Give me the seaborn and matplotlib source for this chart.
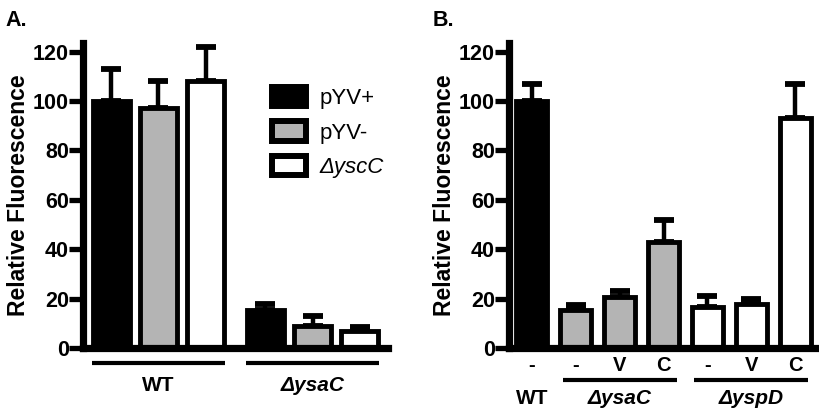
import matplotlib
matplotlib.use("Agg")
import matplotlib.pyplot as plt
import matplotlib.transforms as mtransforms
from matplotlib.patches import Patch
import seaborn as sns
import pandas as pd
import numpy as np

# ---------------- data ----------------
A_groups = ["WT", "ΔysaC"]
A_strains = ["pYV+", "pYV-", "ΔyscC"]
A_mean_WT = [100, 97, 108]
A_mean_ysaC = [15.5, 9, 7]
A_err_WT = [13, 11, 14]
A_err_ysaC = [2.5, 4, 1.5]

B_ticklabels = ["-", "-", "V", "C", "-", "V", "C"]
B_groups = ["WT", "ΔysaC", "ΔysaC", "ΔysaC", "ΔyspD", "ΔyspD", "ΔyspD"]
B_mean = [100, 15.5, 20.5, 43, 16.5, 18, 93]
B_err = [7, 2, 2.5, 9, 4.5, 2, 14]

yticks = [0, 20, 40, 60, 80, 100, 120]
colors = ["#000000", "#b4b4b4", "#ffffff"]

# ---------------- style ----------------
sns.set_theme(style="ticks", rc={"text.color": "black", "axes.labelcolor": "black",
                                 "xtick.color": "black", "ytick.color": "black",
                                 "axes.edgecolor": "black"})
plt.rcParams["font.family"] = ["Liberation Sans", "DejaVu Sans"]

EDGE_LW = 3.5
SPINE_LW = 5.2
ERR_LW = 3.2
TICK_FS = 15.5
LABEL_FS = 16.5

fig = plt.figure(figsize=(8.2, 4.16), dpi=100)
H = 416.0
W = 820.0
def ax_rect(l, r, top, bottom):
    return [l / W, 1 - bottom / H, (r - l) / W, (bottom - top) / H]

axA = fig.add_axes(ax_rect(83, 388, 43, 348))
axB = fig.add_axes(ax_rect(509, 815, 43, 348))

# ---------------- panel A ----------------
dfA = pd.DataFrame({
    "group": [A_groups[0]] * 3 + [A_groups[1]] * 3,
    "strain": A_strains * 2,
    "value": A_mean_WT + A_mean_ysaC,
    "err": A_err_WT + A_err_ysaC,
})
sns.barplot(data=dfA, x="group", y="value", hue="strain", order=A_groups,
            hue_order=A_strains, palette=colors, width=0.92, gap=0.22,
            edgecolor="black", linewidth=EDGE_LW, errorbar=None, ax=axA,
            legend=False)
for p in axA.patches:
    p.set_zorder(3)

for strain_i, strain in enumerate(A_strains):
    for g_i, g in enumerate(A_groups):
        row = dfA[(dfA.group == g) & (dfA.strain == strain)].iloc[0]
        xc = g_i + (strain_i - 1) * 0.92 / 3
        axA.errorbar([xc], [row.value], yerr=[[0], [row.err]], fmt="none",
                     ecolor="black", elinewidth=ERR_LW, capsize=7.5,
                     capthick=4.2, zorder=1)

axA.set_xlim(-0.49, 1.49)
axA.set_ylim(0, 123.5)
axA.set_yticks(yticks)
axA.set_xticks([])
axA.set_xlabel("")
axA.set_ylabel("Relative Fluorescence", fontsize=LABEL_FS, fontweight="bold", labelpad=2)

transA = mtransforms.blended_transform_factory(axA.transData, axA.transAxes)
for g_i, g in enumerate(A_groups):
    axA.plot([g_i - 0.43, g_i + 0.43], [-0.049, -0.049], color="black", lw=3.0,
             transform=transA, clip_on=False, solid_capstyle="butt")
    style = "normal" if g == "WT" else "italic"
    axA.text(g_i, -0.123, g, transform=transA, ha="center", va="center",
             fontsize=15, fontweight="bold", style=style)

handles = [Patch(facecolor=c, edgecolor="black", linewidth=EDGE_LW + 0.8) for c in colors]
leg = axA.legend(handles, A_strains, loc="upper left",
                 bbox_to_anchor=(272 / W, 1 - 87 / H), bbox_transform=fig.transFigure,
                 frameon=False, fontsize=16, handlelength=1.55, handleheight=0.95,
                 labelspacing=0.55, handletextpad=0.6, borderpad=0, borderaxespad=0)
leg.get_texts()[2].set_style("italic")

# ---------------- panel B ----------------
B_x = [f"{g}|{t}|{i}" for i, (g, t) in enumerate(zip(B_groups, B_ticklabels))]
dfB = pd.DataFrame({"x": B_x, "group": B_groups, "value": B_mean, "err": B_err})
B_hue_order = ["WT", "ΔysaC", "ΔyspD"]
sns.barplot(data=dfB, x="x", y="value", hue="group", order=B_x,
            hue_order=B_hue_order, palette=colors, dodge=False, width=0.70,
            edgecolor="black", linewidth=EDGE_LW, errorbar=None, ax=axB,
            legend=False)
for p in axB.patches:
    p.set_zorder(3)
for i, row in dfB.iterrows():
    axB.errorbar([i], [row.value], yerr=[[0], [row.err]], fmt="none",
                 ecolor="black", elinewidth=ERR_LW, capsize=7.5, capthick=4.2, zorder=1)

axB.set_xlim(-0.52, 6.45)
axB.set_ylim(0, 123.5)
axB.set_yticks(yticks)
axB.set_xticks(range(len(B_x)))
axB.set_xticklabels(B_ticklabels, fontsize=14.5, fontweight="bold")
axB.set_xlabel("")
axB.set_ylabel("Relative Fluorescence", fontsize=LABEL_FS, fontweight="bold", labelpad=2)
axB.tick_params(axis="x", length=0, pad=6)

transB = mtransforms.blended_transform_factory(axB.transData, axB.transAxes)
axB.text(0, -0.164, "WT", transform=transB, ha="center", va="center",
         fontsize=15, fontweight="bold")
for g in ["ΔysaC", "ΔyspD"]:
    idx = [i for i, gg in enumerate(B_groups) if gg == g]
    c = np.mean(idx)
    axB.plot([c - 1.3, c + 1.3], [-0.105, -0.105], color="black", lw=3.0,
             transform=transB, clip_on=False, solid_capstyle="butt")
    axB.text(c, -0.164, g, transform=transB, ha="center", va="center",
             fontsize=15, fontweight="bold", style="italic")

# ---------------- common axes styling ----------------
for ax in (axA, axB):
    sns.despine(ax=ax)
    ax.spines["left"].set_linewidth(SPINE_LW)
    ax.spines["bottom"].set_linewidth(SPINE_LW)
    ax.spines["left"].set_zorder(5)
    ax.spines["bottom"].set_zorder(5)
    ax.tick_params(axis="y", length=10, width=3.8, labelsize=TICK_FS, pad=0)
    for lab in ax.get_yticklabels():
        lab.set_fontweight("bold")
    ax.set_facecolor("white")

fig.text(5 / W, 1 - 21 / H, "A.", fontsize=15.5, fontweight="bold", va="center", ha="left")
fig.text(433 / W, 1 - 21 / H, "B.", fontsize=15.5, fontweight="bold", va="center", ha="left")

fig.savefig("out.png", dpi=100, facecolor="white")
